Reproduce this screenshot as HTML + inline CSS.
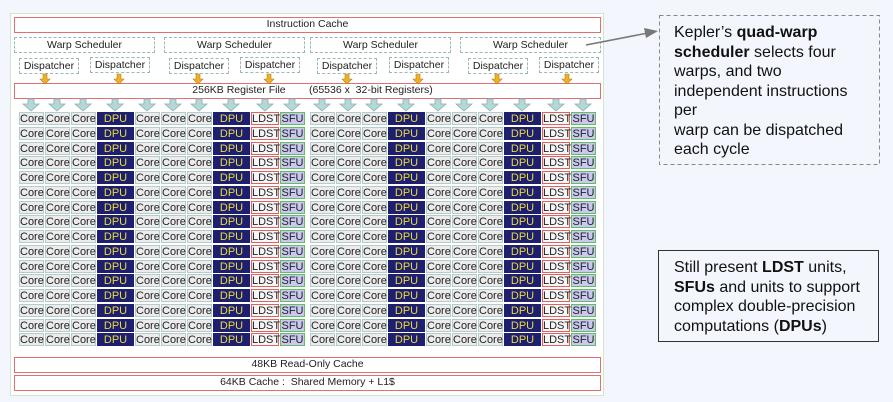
<!DOCTYPE html>
<html><head><meta charset="utf-8"><style>
*{box-sizing:border-box;margin:0;padding:0}
body{width:893px;height:402px;background:#f3f6fc;position:relative;overflow:hidden;font-family:"Liberation Sans",sans-serif}
.a{position:absolute}
.panel{left:10px;top:13px;width:594px;height:383px;background:#fff;border:1px solid #d4e4c8}
.rb{border:1.5px solid #e07070;background:#fff;font-size:10.5px;text-align:center;color:#222}
.db{border:1px dashed #9ab8b8;background:#fff;font-size:10.5px;text-align:center;color:#222}
.r{position:absolute;left:19px;height:13px;display:flex}
.r>*{display:block;height:13px;margin-right:1px;font-size:11px;line-height:12px;text-align:center;font-style:normal;text-decoration:none;font-weight:normal}
.r i{width:25px;background:#ececec;border:1px solid #b4cccc;color:#222}
.r b{width:37px;background:#1f1f70;color:#e8dc3a;border:1px solid #1f1f70}
.r s{width:28px;background:#f6f6f6;border:1px solid #e06060;color:#222}
.r u{width:25px;background:#c8c8f0;border:1px solid #60c060;color:#222}
.r .h{margin-left:4px}
.txt{font-size:16px;line-height:19.5px;color:#111}
</style></head><body>
<div class="a panel"></div>
<div class="a rb" style="left:14px;top:17px;width:587px;height:16px;line-height:13px">Instruction Cache</div>
<div class="a db" style="left:14px;top:37px;width:141px;height:16px;line-height:14px">Warp Scheduler</div>
<div class="a db" style="left:164px;top:37px;width:141px;height:16px;line-height:14px">Warp Scheduler</div>
<div class="a db" style="left:310px;top:37px;width:141px;height:16px;line-height:14px">Warp Scheduler</div>
<div class="a db" style="left:460px;top:37px;width:141px;height:16px;line-height:14px">Warp Scheduler</div>
<div class="a db" style="left:19px;top:58px;width:60px;height:16px;line-height:14px">Dispatcher</div>
<div class="a db" style="left:90px;top:57px;width:60px;height:16px;line-height:14px">Dispatcher</div>
<div class="a db" style="left:169px;top:58px;width:60px;height:16px;line-height:14px">Dispatcher</div>
<div class="a db" style="left:240px;top:57px;width:60px;height:16px;line-height:14px">Dispatcher</div>
<div class="a db" style="left:317px;top:58px;width:60px;height:16px;line-height:14px">Dispatcher</div>
<div class="a db" style="left:389px;top:57px;width:60px;height:16px;line-height:14px">Dispatcher</div>
<div class="a db" style="left:468px;top:58px;width:60px;height:16px;line-height:14px">Dispatcher</div>
<div class="a db" style="left:539px;top:57px;width:60px;height:16px;line-height:14px">Dispatcher</div>
<div class="a rb" style="left:14px;top:83px;width:587px;height:16px;line-height:13px"><span style="margin-left:10px">256KB Register File&nbsp;&nbsp;&nbsp;&nbsp;&nbsp;&nbsp;&nbsp; (65536 x&nbsp; 32-bit Registers)</span></div>
<svg class="a" style="left:0;top:0" width="893" height="402">
<defs>
<polygon id="o" points="-2,0 2,0 2,5 5,5 0,10 -5,5 -2,5" fill="#f0b020" stroke="#b08020" stroke-width="0.6"/>
<polygon id="t" points="-3,0 3,0 3,5 8,5 0,12 -8,5 -3,5" fill="#b4d8d8" stroke="#8ab0b0" stroke-width="0.8"/>
</defs>
<g transform="translate(0,74)">
<use href="#o" x="45"/><use href="#o" x="119"/><use href="#o" x="198"/><use href="#o" x="269"/>
<use href="#o" x="347"/><use href="#o" x="418"/><use href="#o" x="497"/><use href="#o" x="567"/>
</g>
<g transform="translate(0,99)">
<use href="#t" x="31"/><use href="#t" x="57"/><use href="#t" x="83"/><use href="#t" x="115"/><use href="#t" x="147"/><use href="#t" x="173"/><use href="#t" x="199"/><use href="#t" x="231"/><use href="#t" x="265"/><use href="#t" x="292"/>
<use href="#t" x="322"/><use href="#t" x="348"/><use href="#t" x="374"/><use href="#t" x="406"/><use href="#t" x="438"/><use href="#t" x="464"/><use href="#t" x="490"/><use href="#t" x="522"/><use href="#t" x="556"/><use href="#t" x="583"/>
</g>
<line x1="586" y1="45" x2="648" y2="33" stroke="#777" stroke-width="1.5"/>
<polygon points="658,31 644,28 646,38" fill="#777"/>
<rect x="659.5" y="15.5" width="220" height="149" fill="none" stroke="#888" stroke-width="1" stroke-dasharray="4,3"/>
<rect x="658.5" y="250.5" width="220" height="91" fill="none" stroke="#333" stroke-width="1"/>
</svg>
<div class="r" style="top:112px"><i>Core</i><i>Core</i><i>Core</i><b>DPU</b><i>Core</i><i>Core</i><i>Core</i><b>DPU</b><s>LDST</s><u>SFU</u><i class="h">Core</i><i>Core</i><i>Core</i><b>DPU</b><i>Core</i><i>Core</i><i>Core</i><b>DPU</b><s>LDST</s><u>SFU</u></div>
<div class="r" style="top:127px"><i>Core</i><i>Core</i><i>Core</i><b>DPU</b><i>Core</i><i>Core</i><i>Core</i><b>DPU</b><s>LDST</s><u>SFU</u><i class="h">Core</i><i>Core</i><i>Core</i><b>DPU</b><i>Core</i><i>Core</i><i>Core</i><b>DPU</b><s>LDST</s><u>SFU</u></div>
<div class="r" style="top:142px"><i>Core</i><i>Core</i><i>Core</i><b>DPU</b><i>Core</i><i>Core</i><i>Core</i><b>DPU</b><s>LDST</s><u>SFU</u><i class="h">Core</i><i>Core</i><i>Core</i><b>DPU</b><i>Core</i><i>Core</i><i>Core</i><b>DPU</b><s>LDST</s><u>SFU</u></div>
<div class="r" style="top:156px"><i>Core</i><i>Core</i><i>Core</i><b>DPU</b><i>Core</i><i>Core</i><i>Core</i><b>DPU</b><s>LDST</s><u>SFU</u><i class="h">Core</i><i>Core</i><i>Core</i><b>DPU</b><i>Core</i><i>Core</i><i>Core</i><b>DPU</b><s>LDST</s><u>SFU</u></div>
<div class="r" style="top:171px"><i>Core</i><i>Core</i><i>Core</i><b>DPU</b><i>Core</i><i>Core</i><i>Core</i><b>DPU</b><s>LDST</s><u>SFU</u><i class="h">Core</i><i>Core</i><i>Core</i><b>DPU</b><i>Core</i><i>Core</i><i>Core</i><b>DPU</b><s>LDST</s><u>SFU</u></div>
<div class="r" style="top:186px"><i>Core</i><i>Core</i><i>Core</i><b>DPU</b><i>Core</i><i>Core</i><i>Core</i><b>DPU</b><s>LDST</s><u>SFU</u><i class="h">Core</i><i>Core</i><i>Core</i><b>DPU</b><i>Core</i><i>Core</i><i>Core</i><b>DPU</b><s>LDST</s><u>SFU</u></div>
<div class="r" style="top:201px"><i>Core</i><i>Core</i><i>Core</i><b>DPU</b><i>Core</i><i>Core</i><i>Core</i><b>DPU</b><s>LDST</s><u>SFU</u><i class="h">Core</i><i>Core</i><i>Core</i><b>DPU</b><i>Core</i><i>Core</i><i>Core</i><b>DPU</b><s>LDST</s><u>SFU</u></div>
<div class="r" style="top:215px"><i>Core</i><i>Core</i><i>Core</i><b>DPU</b><i>Core</i><i>Core</i><i>Core</i><b>DPU</b><s>LDST</s><u>SFU</u><i class="h">Core</i><i>Core</i><i>Core</i><b>DPU</b><i>Core</i><i>Core</i><i>Core</i><b>DPU</b><s>LDST</s><u>SFU</u></div>
<div class="r" style="top:230px"><i>Core</i><i>Core</i><i>Core</i><b>DPU</b><i>Core</i><i>Core</i><i>Core</i><b>DPU</b><s>LDST</s><u>SFU</u><i class="h">Core</i><i>Core</i><i>Core</i><b>DPU</b><i>Core</i><i>Core</i><i>Core</i><b>DPU</b><s>LDST</s><u>SFU</u></div>
<div class="r" style="top:245px"><i>Core</i><i>Core</i><i>Core</i><b>DPU</b><i>Core</i><i>Core</i><i>Core</i><b>DPU</b><s>LDST</s><u>SFU</u><i class="h">Core</i><i>Core</i><i>Core</i><b>DPU</b><i>Core</i><i>Core</i><i>Core</i><b>DPU</b><s>LDST</s><u>SFU</u></div>
<div class="r" style="top:260px"><i>Core</i><i>Core</i><i>Core</i><b>DPU</b><i>Core</i><i>Core</i><i>Core</i><b>DPU</b><s>LDST</s><u>SFU</u><i class="h">Core</i><i>Core</i><i>Core</i><b>DPU</b><i>Core</i><i>Core</i><i>Core</i><b>DPU</b><s>LDST</s><u>SFU</u></div>
<div class="r" style="top:274px"><i>Core</i><i>Core</i><i>Core</i><b>DPU</b><i>Core</i><i>Core</i><i>Core</i><b>DPU</b><s>LDST</s><u>SFU</u><i class="h">Core</i><i>Core</i><i>Core</i><b>DPU</b><i>Core</i><i>Core</i><i>Core</i><b>DPU</b><s>LDST</s><u>SFU</u></div>
<div class="r" style="top:289px"><i>Core</i><i>Core</i><i>Core</i><b>DPU</b><i>Core</i><i>Core</i><i>Core</i><b>DPU</b><s>LDST</s><u>SFU</u><i class="h">Core</i><i>Core</i><i>Core</i><b>DPU</b><i>Core</i><i>Core</i><i>Core</i><b>DPU</b><s>LDST</s><u>SFU</u></div>
<div class="r" style="top:304px"><i>Core</i><i>Core</i><i>Core</i><b>DPU</b><i>Core</i><i>Core</i><i>Core</i><b>DPU</b><s>LDST</s><u>SFU</u><i class="h">Core</i><i>Core</i><i>Core</i><b>DPU</b><i>Core</i><i>Core</i><i>Core</i><b>DPU</b><s>LDST</s><u>SFU</u></div>
<div class="r" style="top:319px"><i>Core</i><i>Core</i><i>Core</i><b>DPU</b><i>Core</i><i>Core</i><i>Core</i><b>DPU</b><s>LDST</s><u>SFU</u><i class="h">Core</i><i>Core</i><i>Core</i><b>DPU</b><i>Core</i><i>Core</i><i>Core</i><b>DPU</b><s>LDST</s><u>SFU</u></div>
<div class="r" style="top:333px"><i>Core</i><i>Core</i><i>Core</i><b>DPU</b><i>Core</i><i>Core</i><i>Core</i><b>DPU</b><s>LDST</s><u>SFU</u><i class="h">Core</i><i>Core</i><i>Core</i><b>DPU</b><i>Core</i><i>Core</i><i>Core</i><b>DPU</b><s>LDST</s><u>SFU</u></div>
<div class="a rb" style="left:14px;top:357px;width:587px;height:16px;line-height:13px">48KB Read-Only Cache</div>
<div class="a rb" style="left:14px;top:375px;width:587px;height:16px;line-height:13px">64KB Cache :&nbsp; Shared Memory + L1$</div>
<div class="a txt" style="left:674px;top:23px;width:192px">Kepler’s <b>quad-warp scheduler</b> selects four warps, and two independent instructions per<br>warp can be dispatched each cycle</div>
<div class="a txt" style="left:674px;top:258px;width:194px">Still present <b>LDST</b> units, <b>SFUs</b> and units to support complex double-precision computations (<b>DPUs</b>)</div>
</body></html>
